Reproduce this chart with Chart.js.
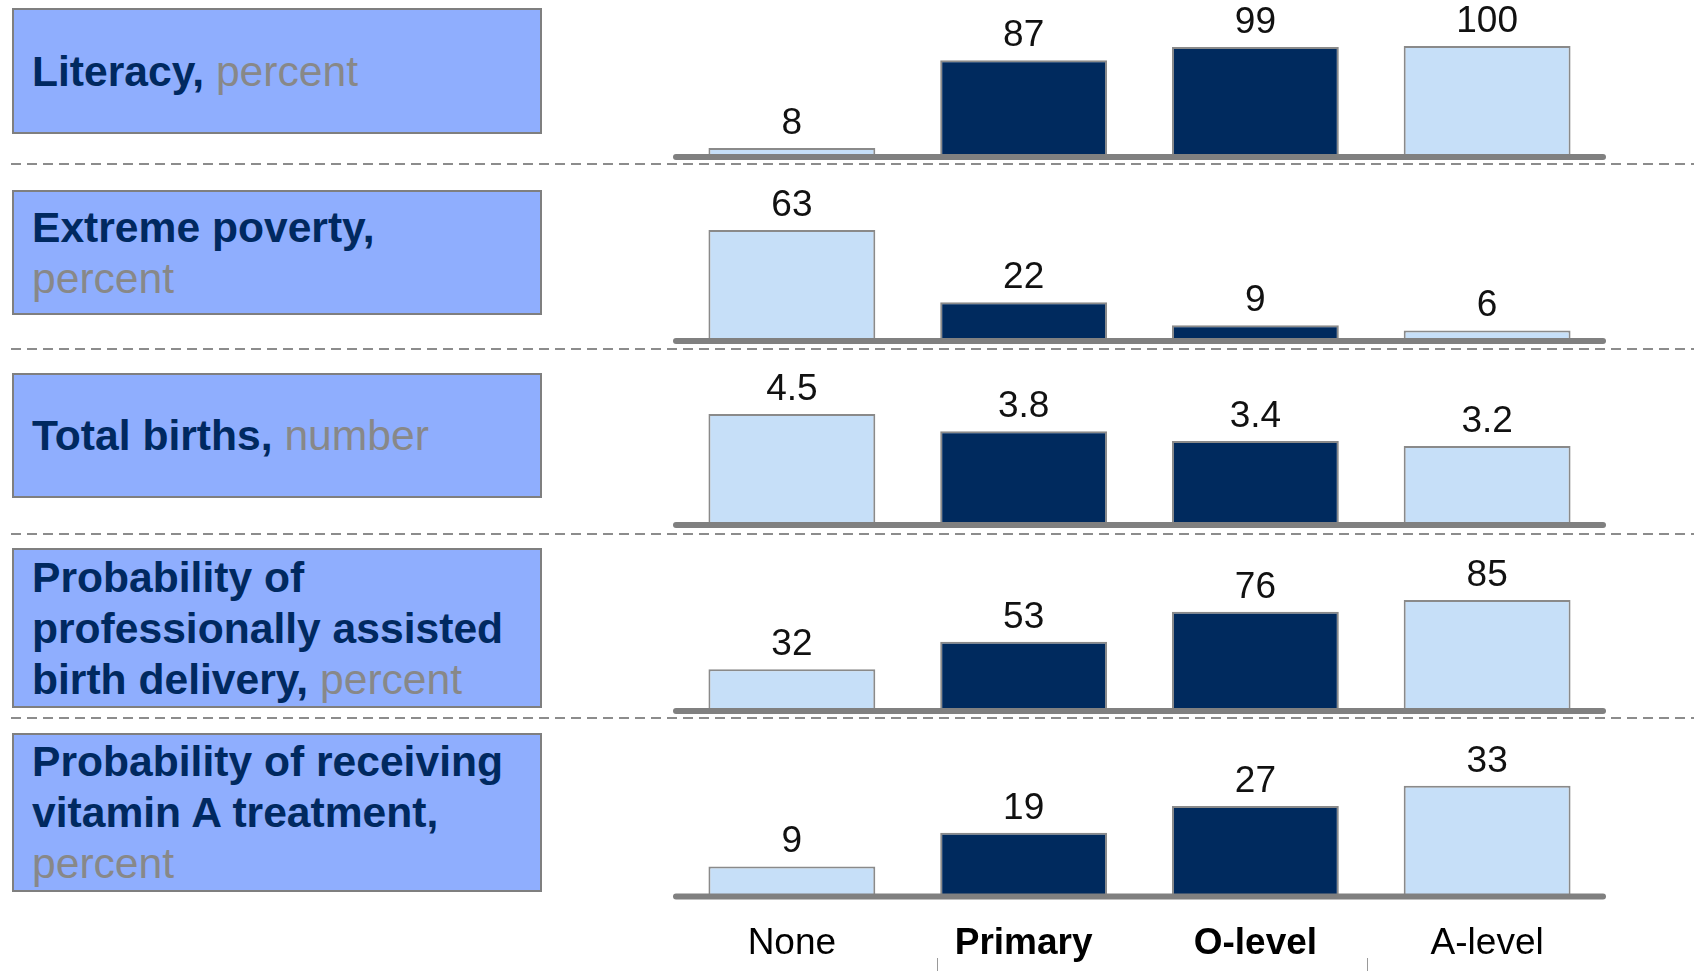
<!DOCTYPE html>
<html>
<head>
<meta charset="utf-8">
<title>Education outcomes</title>
<script src="https://cdn.jsdelivr.net/npm/chart.js@4.4.0/dist/chart.umd.min.js"></script>
<style>
  html, body { margin: 0; padding: 0; background: #fff; }
  body { width: 1694px; height: 971px; position: relative; overflow: hidden;
         font-family: "Liberation Sans", Arial, sans-serif; }
  .box { position: absolute; left: 12px; width: 530px; box-sizing: border-box;
         background: #8FAEFE; border: 2px solid #7f7f7f; display: flex; align-items: center;
         padding-left: 18px; font-size: 42.6px; line-height: 51px; white-space: nowrap; }
  .box b { color: #002960; }
  .box span { color: #888888; }
  .dash { position: absolute; left: 11px; right: 0; height: 2px;
          background: repeating-linear-gradient(to right, #8c8c8c 0 10px, transparent 10px 16px); }
  .tick { position: absolute; width: 1px; height: 14px; top: 958px; background: #9a9a9a; }
  canvas { position: absolute; }
</style>
</head>
<body>

<div class="box" style="top:8px;height:126px"><div><b>Literacy,</b> <span>percent</span></div></div>
<div class="box" style="top:190px;height:125px"><div><b>Extreme poverty,</b><br><span>percent</span></div></div>
<div class="box" style="top:373px;height:125px"><div><b>Total births,</b> <span>number</span></div></div>
<div class="box" style="top:548px;height:160px"><div><b>Probability of<br>professionally assisted<br>birth delivery,</b> <span>percent</span></div></div>
<div class="box" style="top:733px;height:159px"><div><b>Probability of receiving<br>vitamin A treatment,</b><br><span>percent</span></div></div>

<div class="dash" style="top:163px"></div>
<div class="dash" style="top:348px"></div>
<div class="dash" style="top:533px"></div>
<div class="dash" style="top:717px"></div>

<div class="tick" style="left:937px"></div>
<div class="tick" style="left:1367px"></div>

<script>
const categories = ['None', 'Primary', 'O-level', 'A-level'];
const literacy = [8, 87, 99, 100];
const extremePoverty = [63, 22, 9, 6];
const totalBirths = [4.5, 3.8, 3.4, 3.2];
const assistedDelivery = [32, 53, 76, 85];
const vitaminA = [9, 19, 27, 33];

const LIGHT = '#C6DFF8';
const DARK = '#002A5E';
const barColors = [LIGHT, DARK, DARK, LIGHT];
const FONT = '"Liberation Sans", Arial, sans-serif';

// one row per indicator: its values and where its zero line sits on the page
const panels = [
  { values: literacy, baseline: 157 },
  { values: extremePoverty, baseline: 341 },
  { values: totalBirths, baseline: 525 },
  { values: assistedDelivery, baseline: 711 },
  { values: vitaminA, baseline: 897, showLabels: true }
];

const PLOT_LEFT = 676, PLOT_WIDTH = 927, PLOT_HEIGHT = 150;
const PAD_TOP = 60, PAD_SIDE = 12, PAD_BOTTOM = 6;
const TICK_SIZE = 37, TICK_PAD = 25;

// thick rounded zero line under each row of bars
const baselinePlugin = {
  id: 'baselinePlugin',
  afterDatasetsDraw(chart) {
    const { ctx, chartArea, scales } = chart;
    const y = scales.y.getPixelForValue(0);
    ctx.save();
    ctx.strokeStyle = '#808080';
    ctx.lineWidth = 6;
    ctx.lineCap = 'round';
    ctx.beginPath();
    ctx.moveTo(chartArea.left, y);
    ctx.lineTo(chartArea.right, y);
    ctx.stroke();
    ctx.restore();
  }
};

// value printed above every bar
const valueLabels = {
  id: 'valueLabels',
  afterDatasetsDraw(chart) {
    const { ctx } = chart;
    const data = chart.data.datasets[0].data;
    ctx.save();
    ctx.font = '37px ' + FONT;
    ctx.fillStyle = '#111';
    ctx.textAlign = 'center';
    ctx.textBaseline = 'alphabetic';
    chart.getDatasetMeta(0).data.forEach((bar, i) => {
      ctx.fillText(String(data[i]), bar.x, bar.y - 14);
    });
    ctx.restore();
  }
};

panels.forEach(p => {
  const axisH = p.showLabels ? TICK_SIZE * 1.2 + TICK_PAD * 2 : 0;
  const padBottom = p.showLabels ? 0 : PAD_BOTTOM;
  const canvas = document.createElement('canvas');
  canvas.width = PLOT_WIDTH + PAD_SIDE * 2;
  canvas.height = Math.round(PAD_TOP + PLOT_HEIGHT + axisH + padBottom);
  canvas.style.left = (PLOT_LEFT - PAD_SIDE) + 'px';
  canvas.style.top = (p.baseline - PLOT_HEIGHT - PAD_TOP) + 'px';
  document.body.appendChild(canvas);

  new Chart(canvas.getContext('2d'), {
    type: 'bar',
    data: {
      labels: categories,
      datasets: [{
        data: p.values,
        backgroundColor: barColors,
        borderColor: '#8a8a8a',
        borderWidth: 2,
        barPercentage: 0.72,
        categoryPercentage: 1
      }]
    },
    options: {
      responsive: false,
      animation: false,
      layout: { padding: { top: PAD_TOP, left: PAD_SIDE, right: PAD_SIDE, bottom: padBottom } },
      plugins: { legend: { display: false }, tooltip: { enabled: false } },
      scales: {
        x: {
          display: !!p.showLabels,
          grid: { display: false, drawTicks: false },
          border: { display: false },
          ticks: {
            padding: TICK_PAD,
            color: '#000',
            font: c => ({ family: FONT, size: TICK_SIZE, weight: (c.index === 1 || c.index === 2) ? 'bold' : 'normal' })
          }
        },
        y: {
          display: false,
          min: 0,
          max: Math.max(...p.values) * 1.35
        }
      }
    },
    plugins: [baselinePlugin, valueLabels]
  });
});
</script>
</body>
</html>
